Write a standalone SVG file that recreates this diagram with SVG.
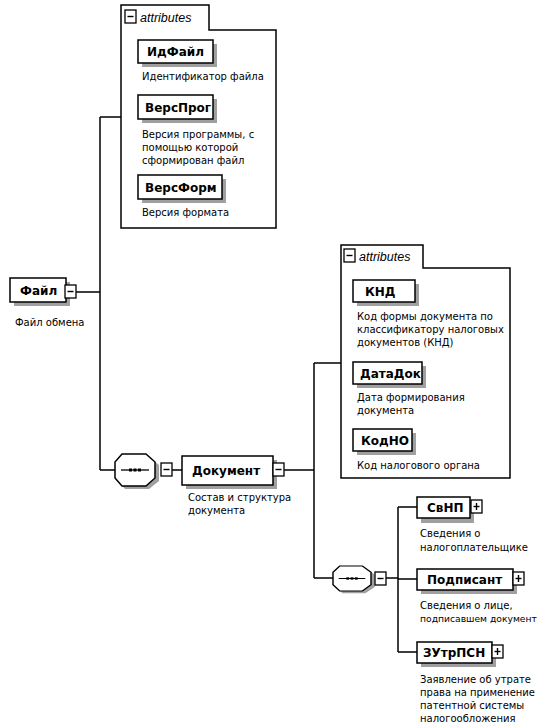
<svg xmlns="http://www.w3.org/2000/svg" width="545" height="728" viewBox="0 0 545 728">
<defs>
<style>
.box{fill:#fff;stroke:#000;stroke-width:1.5}
.sh{fill:#a0a0a0}
.ln{fill:none;stroke:#000;stroke-width:1.5}
.lbl{font-family:"DejaVu Sans","Liberation Sans",sans-serif;font-weight:bold;font-size:12px;fill:#000}
.desc{font-family:"DejaVu Sans","Liberation Sans",sans-serif;font-size:10px;fill:#000}
.tab{font-family:"Liberation Sans",sans-serif;font-style:italic;font-size:12.5px;fill:#000}
.ex{fill:#fff;stroke:#000;stroke-width:1.3}
</style>
<g id="minus"><rect class="ex" x="0" y="0" width="11" height="13"/><line x1="2.5" y1="6.5" x2="8.5" y2="6.5" stroke="#000" stroke-width="1.4"/></g>
<g id="plus"><rect class="ex" x="0" y="0" width="11" height="13"/><line x1="2.5" y1="6.5" x2="8.5" y2="6.5" stroke="#000" stroke-width="1.4"/><line x1="5.5" y1="3" x2="5.5" y2="10" stroke="#000" stroke-width="1.4"/></g>
<g id="seq">
<polygon class="sh" points="10,3 34,3 44,11 44,27 34,35 10,35 3,27 3,11"/>
<polygon class="box" points="7,0 31,0 40,8 40,24 31,32 7,32 0,24 0,8"/>
<line x1="6" y1="16" x2="34" y2="16" stroke="#000" stroke-width="1.3"/>
<rect x="14" y="14.5" width="3" height="3"/><rect x="18.5" y="14.5" width="3" height="3"/><rect x="23" y="14.5" width="3" height="3"/>
</g>
</defs>

<g id="connectors">
<path class="ln" d="M76,292 H100 M100,117 V470 M100,117 H121 M100,470 H115"/>
<path class="ln" d="M172,470 H182 M284,470 H314 M314,363 V578 M314,363 H341 M314,578 H333"/>
<path class="ln" d="M386,578 H398 M398,507 V652 M398,507 H417 M398,579 H417 M398,652 H417"/>
</g>

<g id="attrs1">
<path class="box" d="M121,30 V5 H209 V30 H276 V228 H121 Z"/>
<use href="#minus" x="125" y="10"/>
<text class="tab" x="140" y="22">attributes</text>
</g>

<g id="IdFile">
<rect class="sh" x="142" y="44" width="75" height="23"/>
<rect class="box" x="138" y="40" width="75" height="23"/>
<text class="lbl" x="147" y="56">ИдФайл</text>
<text class="desc" x="142" y="80">Идентификатор файла</text>
</g>

<g id="VersProg">
<rect class="sh" x="142" y="99" width="75" height="24"/>
<rect class="box" x="138" y="95" width="75" height="24"/>
<text class="lbl" x="145" y="112">ВерсПрог</text>
<text class="desc" x="142" y="138">Версия программы, с</text>
<text class="desc" x="142" y="151">помощью которой</text>
<text class="desc" x="142" y="164">сформирован файл</text>
</g>

<g id="VersForm">
<rect class="sh" x="142" y="179" width="84" height="24"/>
<rect class="box" x="138" y="175" width="84" height="24"/>
<text class="lbl" x="145" y="192">ВерсФорм</text>
<text class="desc" x="142" y="216">Версия формата</text>
</g>

<g id="File">
<rect class="sh" x="14" y="282" width="56" height="24"/>
<rect class="box" x="10" y="278" width="56" height="24"/>
<text class="lbl" x="20" y="295">Файл</text>
<use href="#minus" x="65" y="285"/>
<text class="desc" x="15" y="326">Файл обмена</text>
</g>

<g id="seq1">
<use href="#seq" x="115" y="454"/>
<use href="#minus" x="161" y="463"/>
</g>

<g id="Document">
<rect class="sh" x="186" y="460" width="91" height="29"/>
<rect class="box" x="182" y="456" width="91" height="29"/>
<text class="lbl" x="192" y="475">Документ</text>
<use href="#minus" x="273" y="463"/>
<text class="desc" x="188" y="501">Состав и структура</text>
<text class="desc" x="188" y="514">документа</text>
</g>

<g id="attrs2">
<path class="box" d="M341,268 V245 H423 V268 H510 V478 H341 Z"/>
<use href="#minus" x="344" y="249"/>
<text class="tab" x="359" y="261">attributes</text>
</g>

<g id="KND">
<rect class="sh" x="357" y="284" width="62" height="22"/>
<rect class="box" x="353" y="280" width="62" height="22"/>
<text class="lbl" x="365" y="296">КНД</text>
<text class="desc" x="357" y="320">Код формы документа по</text>
<text class="desc" x="357" y="333">классификатору налоговых</text>
<text class="desc" x="357" y="346">документов (КНД)</text>
</g>

<g id="DataDok">
<rect class="sh" x="357" y="366" width="69" height="22"/>
<rect class="box" x="353" y="362" width="69" height="22"/>
<text class="lbl" x="360" y="378">ДатаДок</text>
<text class="desc" x="357" y="401">Дата формирования</text>
<text class="desc" x="357" y="414">документа</text>
</g>

<g id="KodNO">
<rect class="sh" x="357" y="433" width="59" height="22"/>
<rect class="box" x="353" y="429" width="59" height="22"/>
<text class="lbl" x="361" y="445">КодНО</text>
<text class="desc" x="357" y="469">Код налогового органа</text>
</g>

<g id="seq2">
<use href="#seq" x="333" y="566" transform="translate(333,566) scale(0.95,0.78) translate(-333,-566)"/>
<use href="#minus" x="375" y="572"/>
</g>

<g id="SvNP">
<rect class="sh" x="421" y="502" width="53" height="21"/>
<rect class="box" x="417" y="497" width="53" height="21"/>
<text class="lbl" x="427" y="512">СвНП</text>
<use href="#plus" x="471" y="500"/>
<text class="desc" x="420" y="537">Сведения о</text>
<text class="desc" x="420" y="551">налогоплательщике</text>
</g>

<g id="Podpisant">
<rect class="sh" x="421" y="573" width="96" height="21"/>
<rect class="box" x="417" y="569" width="96" height="21"/>
<text class="lbl" x="427" y="584">Подписант</text>
<use href="#plus" x="513" y="572"/>
<text class="desc" x="420" y="609">Сведения о лице,</text>
<text class="desc" x="420" y="622" style="font-size:9.2px">подписавшем документ</text>
</g>

<g id="ZUtrPSN">
<rect class="sh" x="421" y="646" width="75" height="21"/>
<rect class="box" x="417" y="642" width="75" height="21"/>
<text class="lbl" x="423" y="657">ЗУтрПСН</text>
<use href="#plus" x="492" y="645"/>
<text class="desc" x="420" y="683">Заявление об утрате</text>
<text class="desc" x="420" y="696">права на применение</text>
<text class="desc" x="420" y="709">патентной системы</text>
<text class="desc" x="420" y="722">налогообложения</text>
</g>
</svg>
